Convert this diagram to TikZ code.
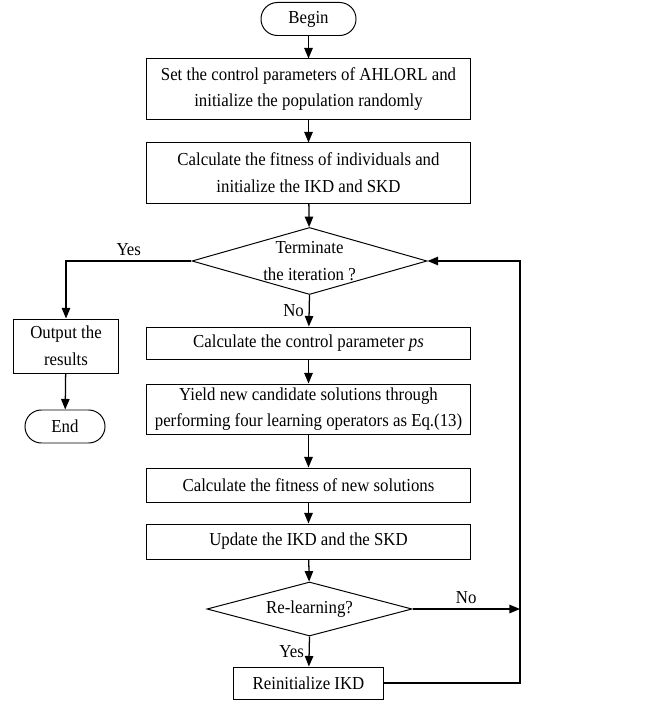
\documentclass[tikz,border=0pt]{standalone}
\usepackage{fontspec}
\setmainfont[FakeStretch=0.92]{Liberation Serif}
\usetikzlibrary{shapes.geometric,arrows.meta}

\tikzset{
  every node/.style={font=\fontsize{13}{19}\selectfont},
  procbox/.style={draw, rectangle, line width=0.7pt, minimum width=8.075cm, align=center, inner sep=0pt},
  termbox/.style={draw, rectangle, rounded corners=0.41cm, line width=0.7pt, align=center, inner sep=0pt},
  decbox/.style={draw, diamond, line width=0.7pt, align=center, inner sep=0pt},
  flow/.style={line width=0.9pt, -{Triangle[length=7.5pt,width=6pt]}},
  link/.style={line width=0.9pt}
}

\begin{document}
\begin{tikzpicture}[x=0.025cm, y=-0.025cm]
\useasboundingbox (0,0) rectangle (649,701);

% Start and set up
\node[termbox, minimum width=2.375cm, minimum height=0.825cm] (begin) at (308.5,19) {Begin};
\node[procbox, minimum height=1.5cm] (setup) at (308.5,89) {Set the control parameters of AHLORL and\\initialize the population randomly};
\node[procbox, minimum height=1.5cm] (init) at (308.5,173) {Calculate the fitness of individuals and\\initialize the IKD and SKD};

% Termination test
\node[decbox, minimum width=5.875cm, minimum height=1.675cm, shape aspect=3.5] (term) at (309.5,261) {Terminate\\the iteration ?};

% Output branch
\node[procbox, minimum width=2.6cm, minimum height=1.35cm] (output) at (66,346) {Output the\\results};
\node[termbox, minimum width=2cm, minimum height=0.825cm] (end) at (65,426.5) {End};

% Main loop
\node[procbox, minimum height=0.8cm] (param) at (308.5,343) {Calculate the control parameter \textit{ps}};
\node[procbox, minimum height=1.25cm] (yield) at (308.5,409) {Yield new candidate solutions through\\performing four learning operators as Eq.(13)};
\node[procbox, minimum height=0.85cm] (fitness) at (308.5,485) {Calculate the fitness of new solutions};
\node[procbox, minimum height=0.875cm] (update) at (308.5,541.5) {Update the IKD and the SKD};
\node[decbox, minimum width=5.125cm, minimum height=1.35cm, shape aspect=3.8] (relearn) at (309.5,609) {Re-learning?};
\node[procbox, minimum width=3.75cm, minimum height=0.8cm] (reinit) at (308.5,683) {Reinitialize IKD};

% Feedback line
\coordinate (back) at (520,261);
\coordinate (nojoin) at (520,609);

% Arrows
\draw[flow] (begin) -- (setup);
\draw[flow] (setup) -- (init);
\draw[flow] (init) -- (term);
\draw[flow] (term.west) -| node[above, pos=0.25] {Yes} (output.north);
\draw[flow] (output) -- (end);
\draw[flow] (term.south) -- node[left] {No} (param);
\draw[flow] (param) -- (yield);
\draw[flow] (yield) -- (fitness);
\draw[flow] (fitness) -- (update);
\draw[flow] (update) -- (relearn);
\draw[flow] (relearn.south) -- node[left] {Yes} (reinit);
\draw[flow] (relearn.east) -- node[above] {No} (nojoin);
\draw[flow] (reinit.east) -| (back) -- (term.east);
\end{tikzpicture}
\end{document}
